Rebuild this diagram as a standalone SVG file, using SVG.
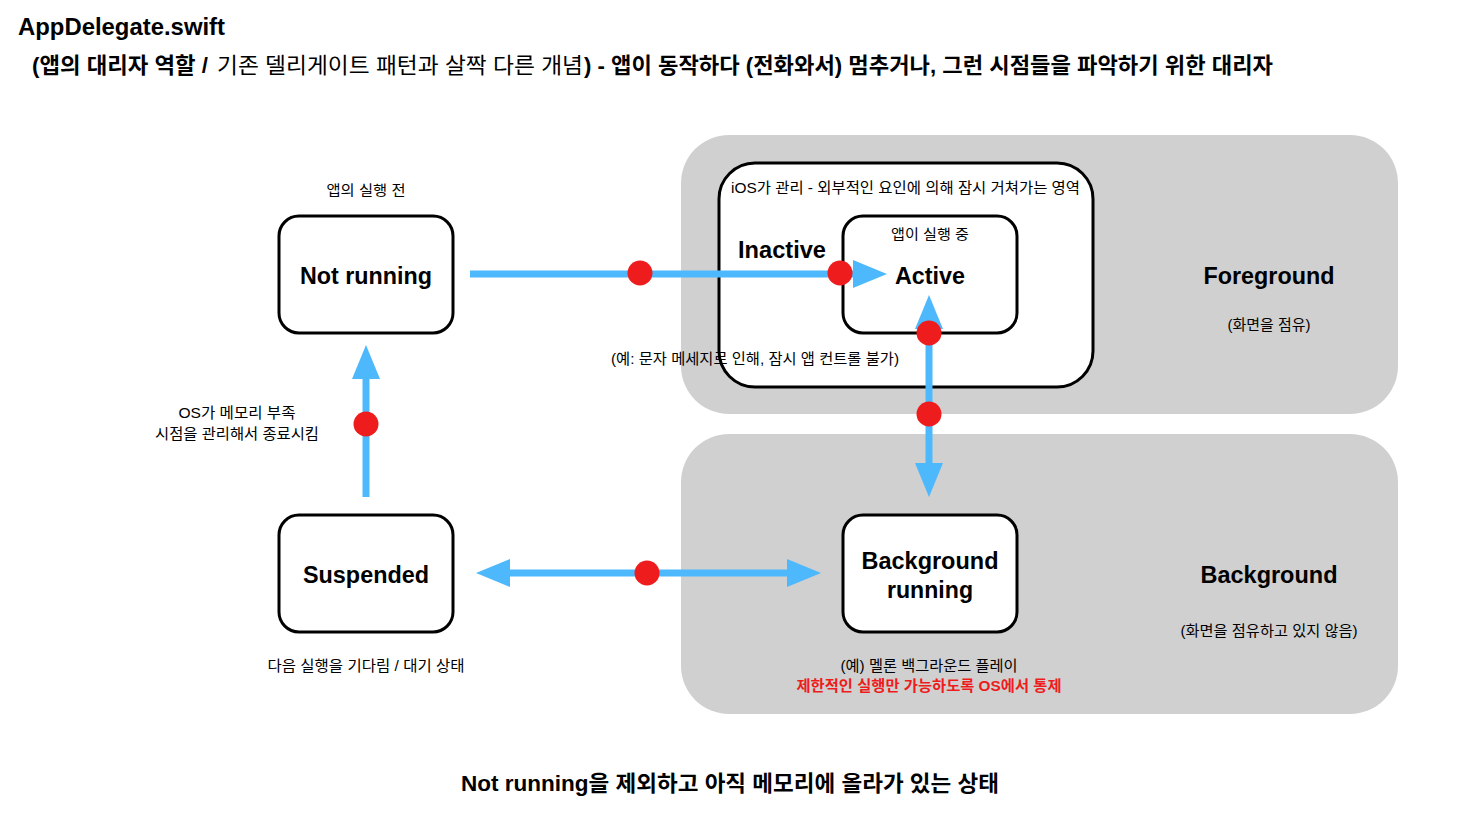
<svg xmlns="http://www.w3.org/2000/svg" width="1458" height="820" viewBox="0 0 1458 820">
<style>
text{font-family:"Liberation Sans","Noto Sans CJK KR",sans-serif;fill:#000}
.b{font-weight:bold}
.t22{font-size:22px}
.t24{font-size:23.5px}
.t14{font-size:15px}
.t13{font-size:14px}
.c{text-anchor:middle}
.region{fill:#d0d0d0}
.box{fill:#fff;stroke:#000;stroke-width:3}
.conn{stroke:#4db8fc;stroke-width:7;fill:none}
.dot{fill:#ee1c1c}
.red{fill:#ee1c1c}
</style>
<defs>
<marker id="ah" markerUnits="userSpaceOnUse" markerWidth="34" markerHeight="28" viewBox="0 0 34 28" refX="8" refY="14" orient="auto-start-reverse">
<path d="M0,0 L34,14 L0,28 z" fill="#4db8fc"/>
</marker>
</defs>
<rect width="1458" height="820" fill="#fff"/>

<g id="title">
<text class="b" style="font-size:24px" x="18" y="35" textLength="207" lengthAdjust="spacingAndGlyphs">AppDelegate.swift</text>
<text class="b t22" x="32" y="73" textLength="176" lengthAdjust="spacingAndGlyphs">(앱의 대리자 역할 /</text>
<text class="t22" x="217" y="73" textLength="366" lengthAdjust="spacingAndGlyphs">기존 델리게이트 패턴과 살짝 다른 개념</text>
<text class="b t22" x="584" y="73" textLength="689" lengthAdjust="spacingAndGlyphs">) - 앱이 동작하다 (전화와서) 멈추거나, 그런 시점들을 파악하기 위한 대리자</text>
</g>

<g id="foreground">
<rect class="region" x="681" y="135" width="717" height="279" rx="48"/>
<text class="b t24 c" x="1269" y="284" textLength="131" lengthAdjust="spacingAndGlyphs">Foreground</text>
<text class="t14 c" x="1269" y="330" textLength="83" lengthAdjust="spacingAndGlyphs">(화면을 점유)</text>
</g>
<g id="background">
<rect class="region" x="681" y="434" width="717" height="280" rx="48"/>
<text class="b t24 c" x="1269" y="583" textLength="137" lengthAdjust="spacingAndGlyphs">Background</text>
<text class="t14 c" x="1269" y="636" textLength="177" lengthAdjust="spacingAndGlyphs">(화면을 점유하고 있지 않음)</text>
</g>

<g id="inactive">
<rect class="box" x="719" y="163" width="374" height="224" rx="36"/>
<text class="t14" x="731" y="193" textLength="349" lengthAdjust="spacingAndGlyphs">iOS가 관리 - 외부적인 요인에 의해 잠시 거쳐가는 영역</text>
<text class="b t24" x="738" y="258" textLength="88" lengthAdjust="spacingAndGlyphs">Inactive</text>
<text class="t14" x="611" y="364" textLength="288" lengthAdjust="spacingAndGlyphs">(예: 문자 메세지로 인해, 잠시 앱 컨트롤 불가)</text>
</g>

<g id="active">
<rect class="box" x="843" y="216" width="174" height="117" rx="20"/>
<text class="t13 c" x="930" y="239" textLength="78" lengthAdjust="spacingAndGlyphs">앱이 실행 중</text>
<text class="b t24 c" x="930" y="284" textLength="70" lengthAdjust="spacingAndGlyphs">Active</text>
</g>

<g id="notrunning">
<text class="t13 c" x="366" y="195" textLength="79" lengthAdjust="spacingAndGlyphs">앱의 실행 전</text>
<rect class="box" x="279" y="216" width="174" height="117" rx="20"/>
<text class="b t24 c" x="366" y="284" textLength="132" lengthAdjust="spacingAndGlyphs">Not running</text>
</g>

<g id="suspended">
<rect class="box" x="279" y="515" width="174" height="117" rx="20"/>
<text class="b t24 c" x="366" y="583" textLength="126" lengthAdjust="spacingAndGlyphs">Suspended</text>
<text class="t14 c" x="366" y="671" textLength="197" lengthAdjust="spacingAndGlyphs">다음 실행을 기다림 / 대기 상태</text>
</g>

<g id="bgrunning">
<rect class="box" x="843" y="515" width="174" height="117" rx="20"/>
<text class="b t24 c" x="930" y="569" textLength="137" lengthAdjust="spacingAndGlyphs">Background</text>
<text class="b t24 c" x="930" y="598" textLength="86" lengthAdjust="spacingAndGlyphs">running</text>
<text class="t14 c" x="929" y="671" textLength="177" lengthAdjust="spacingAndGlyphs">(예) 멜론 백그라운드 플레이</text>
<text class="b t14 c red" x="929" y="691" textLength="265" lengthAdjust="spacingAndGlyphs">제한적인 실행만 가능하도록 OS에서 통제</text>
</g>

<g id="oslabel">
<text class="t14 c" x="237" y="418" textLength="117" lengthAdjust="spacingAndGlyphs">OS가 메모리 부족</text>
<text class="t14 c" x="237" y="439" textLength="164" lengthAdjust="spacingAndGlyphs">시점을 관리해서 종료시킴</text>
</g>

<g id="footer">
<text class="b t22" x="461" y="791" textLength="538" lengthAdjust="spacingAndGlyphs">Not running을 제외하고 아직 메모리에 올라가 있는 상태</text>
</g>

<g id="connectors">
<line class="conn" x1="470" y1="274" x2="861" y2="274" marker-end="url(#ah)"/>
<line class="conn" x1="366" y1="497" x2="366" y2="371" marker-end="url(#ah)"/>
<line class="conn" x1="929" y1="321" x2="929" y2="471" marker-start="url(#ah)" marker-end="url(#ah)"/>
<line class="conn" x1="502" y1="573" x2="795" y2="573" marker-start="url(#ah)" marker-end="url(#ah)"/>
<circle class="dot" cx="640" cy="273" r="12.5"/>
<circle class="dot" cx="840" cy="273" r="12.5"/>
<circle class="dot" cx="366" cy="424" r="12.5"/>
<circle class="dot" cx="929" cy="333" r="12.5"/>
<circle class="dot" cx="929" cy="414" r="12.5"/>
<circle class="dot" cx="647" cy="573" r="12.5"/>
</g>
</svg>
